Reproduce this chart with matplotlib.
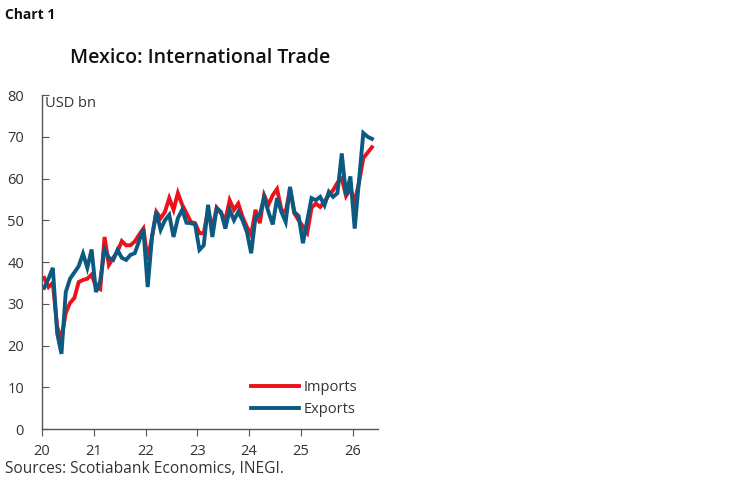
import matplotlib
matplotlib.use("Agg")
import matplotlib.pyplot as plt
import numpy as np

plt.rcParams['font.family'] = ['Open Sans', 'DejaVu Sans']

# monthly values, Jan 2020 .. May 2026 (USD bn)
imports = [36.2, 34.0, 35.0, 24.5, 21.5, 27.8, 30.2, 31.4, 35.2, 35.7, 36.0, 37.0,
           34.0, 33.5, 46.0, 39.3, 41.0, 42.5, 45.0, 44.0, 44.0, 44.9, 46.5, 48.0,
           40.5, 46.0, 52.0, 50.5, 52.0, 55.3, 52.5, 56.5, 53.7, 51.7, 49.6, 49.3,
           46.9, 46.9, 52.5, 48.0, 53.0, 51.7, 50.0, 54.8, 52.5, 54.0, 50.8, 48.4,
           46.5, 52.5, 49.3, 56.0, 53.7, 56.0, 57.5, 52.5, 52.0, 57.5, 51.7, 50.0,
           48.5, 47.0, 53.0, 54.0, 53.2, 54.5, 56.0, 57.2, 59.0, 60.0, 55.8, 57.5,
           54.5, 59.0, 64.9, 66.2, 67.5]
exports = [33.8, 36.0, 38.6, 23.0, 18.0, 32.8, 36.0, 37.5, 39.0, 42.0, 38.6, 43.0,
           32.8, 35.5, 43.0, 41.0, 40.5, 42.9, 41.0, 40.5, 41.7, 42.1, 45.0, 47.9,
           34.0, 46.0, 52.0, 47.7, 50.0, 51.3, 46.0, 50.5, 52.5, 49.4, 49.3, 49.0,
           42.9, 44.0, 53.7, 46.0, 52.9, 52.0, 48.0, 52.5, 50.0, 52.0, 50.0, 47.2,
           42.1, 50.8, 51.3, 55.5, 52.0, 49.0, 55.3, 52.0, 49.6, 58.0, 52.0, 51.0,
           44.5, 50.0, 55.3, 54.8, 55.6, 53.6, 56.8, 55.6, 56.5, 66.0, 56.0, 60.5,
           48.0, 59.5, 70.9, 70.0, 69.5]
year_ticks = [2020, 2021, 2022, 2023, 2024, 2025, 2026]
year_labels = ['20', '21', '22', '23', '24', '25', '26']

months = 2020 + (np.arange(len(imports)) + 0.5) / 12.0

red = '#EC111A'
blue = '#0B5A82'
grey = '#555555'

fig = plt.figure(figsize=(7.48, 4.83), dpi=100)
ax = fig.add_axes([0.0562, 0.1118, 0.449, 0.6915])

ax.plot(months, imports, color=red, lw=2.8, label='Imports', solid_joinstyle='miter')
ax.plot(months, exports, color=blue, lw=2.8, label='Exports', solid_joinstyle='miter')

ax.set_xlim(2020, 2026.49)
ax.set_ylim(0, 80)
ax.set_yticks(range(0, 81, 10))
ax.set_xticks(year_ticks)
ax.set_xticklabels(year_labels)

for s in ['top', 'right']:
    ax.spines[s].set_visible(False)
for s in ['left', 'bottom']:
    ax.spines[s].set_color(grey)
    ax.spines[s].set_linewidth(1.0)

ax.tick_params(axis='y', direction='in', length=5, color=grey, labelsize=10.5,
               labelcolor='#333333', pad=13)
ax.tick_params(axis='x', direction='out', length=5, color=grey, labelsize=10.5,
               labelcolor='#333333', pad=6)

ax.text(0.009, 0.976, 'USD bn', transform=ax.transAxes, fontsize=10.5,
        color='#333333', va='center', ha='left')

leg = ax.legend(loc='lower right', bbox_to_anchor=(0.965, 0.01), frameon=False,
                fontsize=10.5, handlelength=3.3, handletextpad=0.3,
                labelspacing=0.45, borderaxespad=0.2)
for t in leg.get_texts():
    t.set_color('#333333')

fig.text(0.007, 0.968, 'Chart 1', fontsize=10, fontweight='bold', color='#111111',
         va='center', ha='left')
fig.text(0.267, 0.88, 'Mexico: International Trade', fontsize=14, fontweight='semibold',
         color='#111111', va='center', ha='center')
fig.text(0.007, 0.029, 'Sources: Scotiabank Economics, INEGI.', fontsize=11.2,
         color='#333333', va='center', ha='left')

fig.savefig('out.png', dpi=100)
